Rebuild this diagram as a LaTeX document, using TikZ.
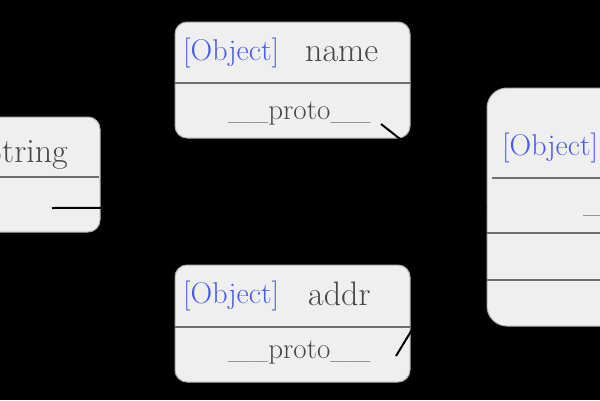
\documentclass[tikz,border=0pt]{standalone}
\usetikzlibrary{arrows.meta,positioning}

\definecolor{boxfill}{RGB}{239,239,239}
\definecolor{boxedge}{RGB}{175,175,175}
\definecolor{divgray}{RGB}{110,110,110}
\definecolor{objblue}{RGB}{72,90,240}
\definecolor{txtgray}{RGB}{72,72,72}

\begin{document}
\begin{tikzpicture}[x=1pt,y=-1pt,
        objbox/.style={
        rectangle,
        rounded corners=12pt,
        draw=boxedge,
        line width=1pt,
        fill=boxfill,
        inner sep=0pt},
    divider/.style={draw=divgray, line width=2pt},
    tagtext/.style={anchor=base west, inner sep=0pt, text=objblue,
        font=\fontsize{30}{32}\selectfont},
    nametext/.style={inner sep=0pt, text=txtgray,
        font=\fontsize{34}{36}\selectfont},
    slottext/.style={anchor=base west, inner sep=0pt, text=txtgray,
        font=\fontsize{29}{30}\selectfont},
    myarrow/.style={-Stealth, line width=2pt, black}
    ]
    \fill[black] (0,0) rectangle (600,400);
    \useasboundingbox (0,0) rectangle (600,400);
    \clip (0,0) rectangle (600,400);

    % the four objects
    \node[objbox, minimum width=240pt, minimum height=115pt] (strobj) at (-20,174.5) {};
    \node[objbox, minimum width=235pt, minimum height=116pt] (nameobj) at (292.5,80) {};
    \node[objbox, minimum width=235pt, minimum height=117pt] (addrobj) at (292.5,323.5) {};
    \node[objbox, rounded corners=20pt, minimum width=326pt, minimum height=238pt] (protoobj) at (650,207) {};

    % header / slot dividers
    \draw[divider] (-140,177) -- (99,177);
    \draw[divider] (175,83) -- (410,83);
    \draw[divider] (175,327) -- (410,327);
    \draw[divider] (492,178) -- (813,178);
    \draw[divider] (487,233) -- (813,233);
    \draw[divider] (487,280) -- (813,280);

    % headers
    \node[nametext, anchor=base east] (strname) at (68,162) {String};
    \node[tagtext] (nametag) at (183,60) {[Object]};
    \node[nametext, anchor=base west] (namename) at (305,61) {name};
    \node[tagtext] (addrtag) at (183,303) {[Object]};
    \node[nametext, anchor=base west] (addrname) at (308,305) {addr};
    \node[tagtext] (prototag) at (502,155) {[Object]};

    % slots
    \node[slottext] (nameslot) at (228,119) {\_\_proto\_\_};
    \node[slottext] (addrslot) at (228,358) {\_\_proto\_\_};
    \node[slottext] (protoslot) at (583,212) {\_\_proto\_\_};

    % pointers
    \coordinate (strptr) at (52,208);
    \coordinate (nameptr) at (381,124);
    \coordinate (addrptr) at (396,356);
    \foreach \i in {strptr, nameptr, addrptr}
        \draw[myarrow] (\i) -- (protoobj.west);
\end{tikzpicture}
\end{document}
